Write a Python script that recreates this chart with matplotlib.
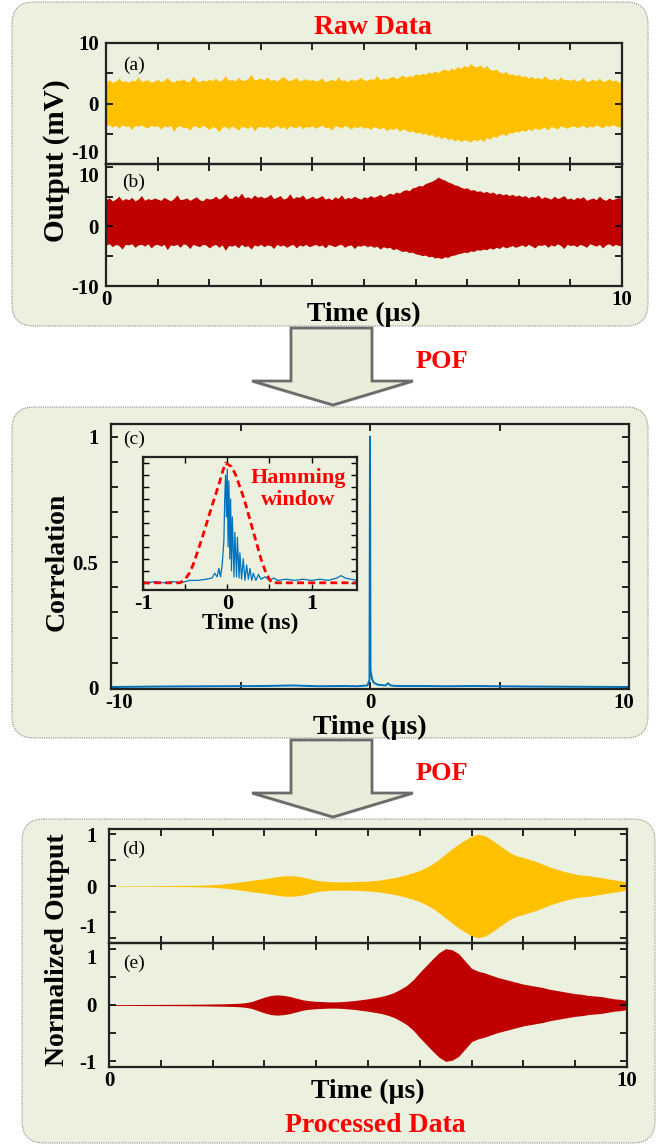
import numpy as np
import matplotlib
matplotlib.use('Agg')
import matplotlib.pyplot as plt
from matplotlib.patches import FancyBboxPatch, Polygon
from matplotlib.transforms import ScaledTranslation

# ---- data ----
# raw data envelopes (mV), 161 samples over 0..10 us
t_raw = np.linspace(0, 10, 161)
a_up = [3.6, 3.9, 3.5, 3.7, 4.2, 3.6, 3.8, 3.5, 3.9, 3.7, 4.4, 3.6, 3.8, 3.9, 3.5, 3.7, 4.0,
        3.6, 3.8, 4.3, 3.7, 3.5, 3.9, 3.8, 4.1, 3.6, 3.7, 4.5, 3.8, 3.6, 3.9, 3.7, 4.0,
        3.8, 4.2, 3.7, 3.9, 4.6, 3.8, 4.0, 3.7, 4.3, 3.9, 3.8, 4.1, 4.8, 3.9, 4.0, 4.2,
        3.9, 4.4, 3.8, 4.0, 3.7, 4.1, 4.5, 3.9, 3.8, 4.0, 4.3, 3.7, 3.9, 4.1, 3.8, 4.0,
        3.7, 3.9, 4.2, 3.6, 3.8, 4.0, 3.7, 4.4, 3.8, 3.9, 3.6, 4.1, 3.8, 4.0, 4.3, 3.9,
        3.8, 4.1, 4.0, 4.6, 3.9, 4.2, 4.0, 4.3, 4.5, 4.1, 4.4, 4.7, 4.3, 4.6, 4.5, 4.9,
        4.7, 5.0, 4.8, 5.2, 5.0, 5.4, 5.1, 5.5, 5.7, 5.4, 5.8, 5.6, 6.1, 5.8, 6.3, 6.0,
        6.6, 6.2, 6.0, 6.4, 5.8, 6.3, 5.6, 5.5, 5.7, 5.2, 5.0, 5.3, 4.8, 4.9, 4.6, 4.8,
        4.4, 4.6, 4.2, 4.5, 4.1, 4.3, 4.0, 4.6, 4.1, 3.9, 4.2, 3.8, 4.4, 3.9, 4.0, 3.8,
        4.1, 3.7, 3.9, 4.3, 3.6, 3.8, 4.0, 3.7, 4.2, 3.6, 3.8, 4.1, 3.7, 3.9, 3.5, 3.8]
a_lo = [-3.7, -3.5, -3.9, -3.6, -4.1, -3.5, -3.8, -3.7, -4.3, -3.6, -3.8, -3.5, -3.9, -4.0, -3.6, -3.8, -3.7,
        -4.2, -3.7, -3.9, -3.6, -4.6, -3.8, -3.7, -4.0, -3.9, -4.4, -3.7, -3.8, -4.1, -3.6, -3.9, -4.3,
        -3.8, -4.0, -4.7, -3.9, -3.8, -4.2, -3.7, -4.0, -4.4, -3.8, -3.9, -4.1, -3.7, -4.5, -3.9, -3.8,
        -4.0, -3.7, -4.2, -3.9, -3.6, -4.1, -3.8, -4.3, -3.7, -3.9, -4.0, -3.6, -4.2, -3.8, -3.9, -3.7,
        -4.1, -3.8, -3.6, -4.0, -3.9, -4.4, -3.7, -3.8, -4.1, -3.6, -3.9, -4.2, -3.8, -4.0, -3.7, -4.1,
        -3.9, -4.3, -3.8, -4.0, -4.2, -3.9, -4.5, -4.1, -4.3, -4.0, -4.6, -4.2, -4.4, -4.7, -4.5, -4.9,
        -4.7, -5.1, -4.9, -5.3, -5.1, -5.6, -5.3, -5.8, -5.5, -6.0, -5.7, -6.2, -5.9, -6.3, -6.0, -6.1,
        -6.4, -5.9, -6.2, -5.8, -6.3, -5.6, -5.9, -5.4, -5.6, -5.2, -5.0, -5.3, -4.8, -4.9, -4.6, -4.7,
        -4.4, -4.6, -4.2, -4.5, -4.0, -4.3, -4.1, -3.9, -4.4, -3.8, -4.0, -4.2, -3.7, -3.9, -4.1, -3.8,
        -3.7, -4.0, -3.8, -3.6, -4.1, -3.7, -3.9, -3.5, -3.8, -4.0, -3.6, -3.8, -3.5, -3.7, -3.9, -3.6]
b_up = [4.5, 4.8, 4.3, 4.6, 5.1, 4.4, 4.7, 4.5, 4.9, 4.3, 4.6, 5.2, 4.4, 4.7, 4.5, 4.8, 4.6,
        4.4, 4.9, 4.6, 4.3, 4.7, 5.3, 4.5, 4.6, 4.8, 4.4, 4.7, 5.0, 4.5, 4.3, 4.8, 4.6,
        4.7, 5.1, 4.6, 4.9, 5.5, 4.8, 4.7, 5.2, 4.9, 5.6, 4.8, 5.0, 4.7, 5.3, 4.9, 5.1,
        4.8, 5.0, 5.4, 4.7, 4.9, 5.2, 4.6, 4.8, 5.5, 4.7, 5.0, 4.9, 5.3, 4.6, 4.8, 5.1,
        4.7, 4.9, 5.2, 4.6, 4.8, 4.5, 5.0, 4.7, 5.3, 4.6, 4.9, 4.7, 5.1, 4.8, 4.6, 5.0,
        4.8, 5.2, 4.9, 5.1, 5.4, 5.0, 5.3, 5.6, 5.4, 5.8, 5.6, 6.0, 6.2, 6.0, 6.5, 6.6,
        6.9, 6.8, 7.2, 7.4, 7.6, 7.9, 8.3, 8.0, 7.8, 7.5, 7.3, 7.0, 6.9, 6.6, 6.4, 6.5,
        6.1, 6.2, 5.9, 6.0, 5.7, 5.9, 5.6, 5.8, 5.4, 5.6, 5.3, 5.5, 5.2, 5.4, 5.1, 5.3,
        5.0, 5.2, 4.8, 5.1, 4.9, 5.3, 4.7, 5.0, 4.8, 4.6, 5.1, 4.7, 4.9, 5.2, 4.6, 4.8,
        4.5, 4.9, 4.7, 5.0, 4.4, 4.6, 4.8, 4.5, 5.1, 4.6, 4.4, 4.8, 4.5, 4.7, 4.9, 4.5]
b_lo = [-3.1, -2.9, -3.4, -3.0, -3.2, -3.8, -3.0, -3.1, -2.9, -3.5, -3.1, -3.0, -3.3, -2.9, -3.6, -3.1, -3.0,
        -3.3, -3.0, -3.9, -3.1, -3.2, -3.0, -3.5, -2.9, -3.1, -3.7, -3.0, -3.2, -3.4, -3.0, -3.1, -3.6,
        -3.2, -3.0, -3.5, -3.1, -4.0, -3.2, -3.3, -3.1, -3.6, -3.0, -3.4, -3.2, -3.8, -3.1, -3.3, -3.0,
        -3.4, -3.1, -3.2, -3.7, -3.0, -3.3, -3.1, -3.5, -3.2, -3.0, -3.6, -3.1, -3.3, -3.0, -3.4, -3.2,
        -3.0, -3.3, -3.1, -3.6, -3.0, -3.2, -3.4, -3.1, -3.0, -3.5, -3.2, -3.1, -3.7, -3.2, -3.3, -3.1,
        -3.4, -3.2, -3.5, -3.3, -3.8, -3.4, -3.6, -3.5, -3.9, -3.7, -4.0, -4.2, -4.1, -4.4, -4.3, -4.6,
        -4.7, -4.9, -4.8, -5.1, -5.0, -5.3, -5.2, -5.4, -5.1, -5.2, -4.9, -4.8, -4.6, -4.5, -4.3, -4.4,
        -4.1, -4.2, -3.9, -4.0, -3.8, -3.9, -3.6, -3.8, -3.5, -3.7, -3.3, -3.6, -3.4, -3.2, -3.5, -3.3,
        -3.1, -3.4, -3.0, -3.3, -3.6, -3.1, -3.2, -3.0, -3.5, -3.1, -3.3, -2.9, -3.2, -3.7, -3.0, -3.2,
        -3.1, -3.4, -3.0, -3.2, -3.5, -2.9, -3.1, -3.3, -3.0, -3.6, -3.1, -2.9, -3.3, -3.0, -3.2, -3.1]

# correlation (c)
corr_t = [-10, -8, -6, -4, -3, -2, -1, -0.5, -0.1, -0.02, 0, 0.02, 0.08, 0.15, 0.3,
          0.6, 0.7, 0.8, 1, 2, 3, 4, 6, 8, 10]
corr_y = [0.003, 0.005, 0.006, 0.007, 0.009, 0.006, 0.007, 0.006, 0.009, 0.03, 1.0, 0.07,
          0.035, 0.02, 0.012, 0.009, 0.018, 0.009, 0.007, 0.007, 0.006, 0.007, 0.005, 0.004, 0.003]

# inset: zoom around the peak (ns)
ins_t = [-1.0, -0.95, -0.85, -0.75, -0.65, -0.55, -0.45, -0.35, -0.25, -0.18, -0.15, -0.12, -0.1,
         -0.08, -0.06, -0.04, -0.03, -0.02, -0.01, 0, 0.01, 0.02, 0.03, 0.04, 0.05, 0.06, 0.08,
         0.09, 0.11, 0.12, 0.14, 0.15, 0.17, 0.19, 0.21, 0.23, 0.25, 0.27, 0.29, 0.31, 0.34, 0.37,
         0.4, 0.45, 0.5, 0.55, 0.6, 0.7, 0.8, 0.9, 1.0, 1.1, 1.2, 1.3, 1.35, 1.4, 1.54]
ins_y = [0.01, 0.0, 0.01, 0.0, 0.01, 0.0, 0.02, 0.02, 0.03, 0.04, 0.08, 0.05, 0.12,
         0.05, 0.15, 0.35, 0.7, 0.9, 0.55, 0.95, 0.3, 0.85, 0.2, 0.7, 0.1, 0.55, 0.05,
         0.42, 0.05, 0.38, 0.04, 0.25, 0.03, 0.2, 0.02, 0.15, 0.03, 0.12, 0.02, 0.08, 0.02, 0.07,
         0.03, 0.05, 0.02, 0.04, 0.02, 0.03, 0.02, 0.03, 0.02, 0.03, 0.02, 0.04, 0.06, 0.04, 0.02]
ham_t = [-1.0, -0.56, -0.5, -0.45, -0.4, -0.3, -0.2, -0.1, -0.05, -0.02, 0.05, 0.1, 0.2, 0.3,
         0.4, 0.45, 0.5, 0.53, 1.54]
ham_y = [0, 0, 0.03, 0.08, 0.16, 0.37, 0.6, 0.82, 0.94, 1.0, 0.97, 0.9, 0.7, 0.45,
         0.2, 0.1, 0.03, 0, 0]

# processed data envelopes, 81 samples over 0..10 us
t_env = np.linspace(0, 10, 81)
d_env = [.005, .005, .005, .005, .006, .006, .006, .007, .008, .009, .01, .011, .012, .014, .016, .02, .025,
         .034, .045, .058, .075, .09, .11, .125, .14, .16, .18, .195, .2, .19, .17, .14, .11,
         .095, .085, .08, .08, .08, .085, .09, .095, .105, .12, .14, .16, .19, .22, .26, .3,
         .36, .43, .52, .62, .72, .81, .89, .96, 1.0, .97, .9, .81, .72, .64, .58, .55,
         .51, .47, .42, .37, .33, .29, .26, .23, .21, .2, .18, .16, .14, .12, .1, .08]
e_env = [.008, .008, .008, .008, .009, .009, .01, .01, .011, .011, .012, .012, .013, .014, .015, .016, .018,
         .02, .022, .026, .03, .04, .06, .1, .14, .17, .18, .17, .15, .12, .09, .075, .065,
         .06, .055, .055, .06, .07, .08, .095, .11, .13, .15, .18, .22, .28, .35, .45, .58,
         .7, .82, .93, 1.0, .98, .91, .78, .65, .6, .57, .53, .49, .46, .43, .4, .37,
         .35, .33, .31, .28, .26, .24, .22, .2, .19, .17, .16, .15, .13, .11, .1, .08]

YELLOW = '#FFC000'
RED = '#C00000'
BLUE = '#0072BD'
BOXC = '#EBF1DE'

plt.rcParams['font.family'] = 'Liberation Serif'
plt.rcParams['font.weight'] = 'bold'
plt.rcParams['axes.labelweight'] = 'bold'
plt.rcParams['axes.unicode_minus'] = False

W, H = 658, 1145
fig = plt.figure(figsize=(W / 100, H / 100), dpi=100)

# background layer in pixel coordinates
bg = fig.add_axes([0, 0, 1, 1])
bg.set_xlim(0, W)
bg.set_ylim(H, 0)
bg.axis('off')

for x0, y0, x1, y1 in [(12, 2, 648, 326), (12, 407, 648, 738), (22, 819, 655, 1143)]:
    bg.add_patch(FancyBboxPatch((x0, y0), x1 - x0, y1 - y0,
                                boxstyle='round,pad=0,rounding_size=22',
                                fc=BOXC, ec='#8C8C8C', lw=0.8, ls=(0, (1, 1))))

# block arrows between the panels
for y0 in [328, 740]:
    pts = [(291, y0), (372, y0), (372, y0 + 53), (413, y0 + 53), (333, y0 + 77),
           (252, y0 + 53), (291, y0 + 53)]
    bg.add_patch(Polygon(pts, closed=True, fc='#A9AC9F', ec='none', alpha=0.5,
                         zorder=2, transform=bg.transData + ScaledTranslation(0, -2 / 100, fig.dpi_scale_trans)))
    bg.add_patch(Polygon(pts, closed=True, fc='#E9EEDA', ec='#6B6B6B', lw=2, zorder=3))
    bg.text(442, y0 + 33, 'POF', color='red', fontsize=19, ha='center', va='center')

bg.text(373, 28, 'Raw Data', color='red', fontsize=20, ha='center', va='center')
bg.text(375, 1125, 'Processed Data', color='red', fontsize=20, ha='center', va='center')
bg.text(57, 161, 'Output (mV)', fontsize=21, rotation=90, ha='center', va='center')
bg.text(57, 562, 'Correlation', fontsize=20, rotation=90, ha='center', va='center')
bg.text(57, 950, 'Normalized Output', fontsize=20, rotation=90, ha='center', va='center')
for lab, (px, py) in zip(['(a)', '(b)', '(c)', '(d)', '(e)'],
                         [(134, 65), (134, 182), (134, 439), (134, 849), (134, 963)]):
    bg.text(px, py, lab, fontsize=14, fontweight='normal', ha='center', va='center')


def px_axes(x0, y0, x1, y1, ypad=5):
    ax = fig.add_axes([x0 / W, 1 - y1 / H, (x1 - x0) / W, (y1 - y0) / H], facecolor='none')
    for s in ax.spines.values():
        s.set_linewidth(1.6)
        s.set_color('#222222')
    ax.tick_params(direction='in', top=True, right=True, length=5, width=1.2,
                   labelsize=15, pad=3)
    ax.tick_params(axis='y', pad=ypad)
    return ax


def shift(label, dx):
    label.set_transform(label.get_transform() + ScaledTranslation(dx / 100, 0, fig.dpi_scale_trans))


time_ticks = list(range(11))
time_labels = ['0'] + [''] * 9 + ['10']

# (a)
ax_a = px_axes(106, 43, 622, 164)
ax_a.fill_between(t_raw, a_lo, a_up, color=YELLOW, lw=0)
ax_a.set_xlim(0, 10)
ax_a.set_ylim(-10, 10)
ax_a.set_xticks(time_ticks, [''] * 11)
ax_a.set_yticks([-10, -5, 0, 5, 10], ['-10', '', '0', '', '10'])
ax_a.get_yticklabels()[0].set_va('bottom')

# (b)
ax_b = px_axes(106, 164, 622, 286)
ax_b.fill_between(t_raw, b_lo, b_up, color=RED, lw=0)
ax_b.set_xlim(0, 10)
ax_b.set_ylim(-9.5, 10.5)
ax_b.set_xticks(time_ticks, time_labels)
ax_b.set_yticks([-10, -5, 0, 5, 10], ['-10', '', '0', '', '10'])
ax_b.get_yticklabels()[-1].set_va('top')
ax_b.set_xlabel('Time (\u00b5s)', fontsize=20, labelpad=-6)

# (c)
ax_c = px_axes(111, 424, 629, 689, ypad=9)
ax_c.plot(corr_t, corr_y, color=BLUE, lw=1.4)
ax_c.set_xlim(-10, 10)
ax_c.set_ylim(-0.005, 1.05)
ax_c.set_xticks([-10, -5, 0, 5, 10], ['-10', '', '0', '', '10'])
ax_c.set_yticks(np.round(np.arange(0, 1.01, 0.1), 1),
                ['0', '', '', '', '', '0.5', '', '', '', '', '1'])
shift(ax_c.get_xticklabels()[0], 8)
shift(ax_c.get_xticklabels()[-1], -5)
ax_c.set_xlabel('Time (\u00b5s)', fontsize=20, labelpad=1)

# inset
ax_in = px_axes(143, 457, 357, 590)
ax_in.set_facecolor(BOXC)
ax_in.plot(ins_t, ins_y, color=BLUE, lw=0.9)
ax_in.plot(ham_t, ham_y, color='#FF0000', lw=2, ls=(0, (2.5, 1.5)))
ax_in.set_xlim(-1.0, 1.54)
ax_in.set_ylim(-0.06, 1.05)
ax_in.set_xticks([-1, -0.5, 0, 0.5, 1], ['-1', '', '0', '', '1'])
ax_in.set_yticks(np.round(np.arange(0, 1.01, 0.1), 1), [''] * 11)
ax_in.tick_params(length=4, width=1, labelsize=16)
ax_in.set_xlabel('Time (ns)', fontsize=17, labelpad=-1)
ax_in.text(0.84, 0.78, 'Hamming\nwindow', color='#FF0000', fontsize=16,
           ha='center', va='center', linespacing=1.15)

# (d)
ax_d = px_axes(109, 829, 627, 943, ypad=9)
ax_d.fill_between(t_env, -np.array(d_env), d_env, color=YELLOW, lw=0)
ax_d.set_xlim(0, 10)
ax_d.set_ylim(-1.1, 1.1)
ax_d.set_xticks(time_ticks, [''] * 11)
ax_d.set_yticks([-1, -0.5, 0, 0.5, 1], ['-1', '', '0', '', '1'])
ax_d.get_yticklabels()[0].set_va('bottom')

# (e)
ax_e = px_axes(109, 943, 627, 1067, ypad=9)
ax_e.fill_between(t_env, -np.array(e_env), e_env, color=RED, lw=0)
ax_e.set_xlim(0, 10)
ax_e.set_ylim(-1.1, 1.1)
ax_e.set_xticks(time_ticks, time_labels)
ax_e.set_yticks([-1, -0.5, 0, 0.5, 1], ['-1', '', '0', '', '1'])
ax_e.get_yticklabels()[-1].set_va('top')
ax_e.set_xlabel('Time (\u00b5s)', fontsize=20, labelpad=-9)

fig.savefig('out.png', dpi=100)
